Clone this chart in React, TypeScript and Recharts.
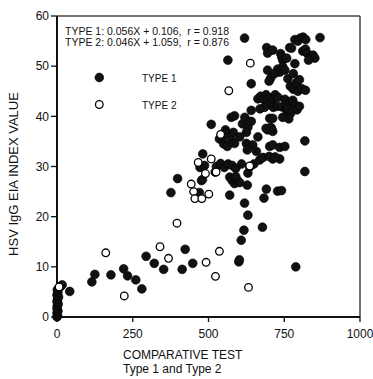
import { ScatterChart, Scatter, XAxis, YAxis, ReferenceLine } from 'recharts';

const xTicks = [0, 250, 500, 750, 1000];
const yTicks = [0, 10, 20, 30, 40, 50, 60];

const equationLines = [
  'TYPE 1: 0.056X + 0.106,  r = 0.918',
  'TYPE 2: 0.046X + 1.059,  r = 0.876',
];

// type 1 (filled) readings, [comparative test, EIA index]
const type1: [number, number][] = [
  [0, 0], [2, 0.3], [0, 0.8], [3, 1.2], [0, 1.7], [1, 2.2], [4, 2.6], [0, 3.1], [2, 3.6], [5, 4.0],
  [0, 4.4], [3, 4.9], [1, 5.4], [6, 5.8], [12, 6.1], [17, 6.4], [42, 5.1],
  [115, 7.0], [125, 8.5], [178, 8.4], [220, 9.6], [233, 8.2], [260, 7.4], [280, 5.6], [294, 12.1],
  [321, 10.7], [352, 9.5], [413, 9.5], [423, 13.5], [448, 10.7], [600, 11.0], [602, 11.4], [608, 15.3],
  [617, 17.3], [630, 20.3], [619, 22.7], [678, 17.9], [788, 10.0],
  [376, 24.8], [398, 27.6], [470, 24.8], [477, 27.2], [480, 27.4], [472, 29.8], [476, 30.0], [487, 30.2],
  [481, 32.5], [522, 28.9], [509, 38.4], [556, 37.3], [575, 39.8], [586, 40.1],
  [612, 38.5], [620, 39.8], [630, 37.8], [641, 39.0], [625, 36.8], [641, 41.2],
  [536, 35.5], [547, 35.9], [558, 36.6], [550, 34.5], [562, 34.0], [575, 35.3], [586, 34.6], [603, 35.9], [582, 36.8],
  [625, 34.6], [632, 34.0], [646, 34.3], [628, 33.3], [663, 35.9], [658, 33.0],
  [695, 37.3], [705, 37.8], [712, 37.0], [690, 37.6],
  [702, 34.0], [712, 34.3], [735, 33.8], [752, 34.0], [712, 31.5], [735, 31.5], [818, 35.1], [818, 29.0],
  [526, 30.0], [540, 30.6], [552, 29.8], [565, 30.5], [578, 30.2], [590, 29.6], [609, 30.5], [650, 30.5],
  [669, 31.3], [680, 31.8], [700, 32.0], [720, 31.9],
  [570, 27.9], [578, 27.2], [586, 26.6], [595, 27.3], [603, 26.8], [590, 28.0],
  [630, 28.7], [636, 29.9], [628, 26.3], [570, 24.3], [683, 23.7], [691, 25.5], [728, 25.1], [741, 25.2],
  [619, 55.6], [564, 51.2], [641, 46.5],
  [692, 53.7], [695, 52.6], [712, 53.2], [738, 52.5], [742, 51.8], [768, 53.7],
  [785, 55.3], [795, 55.0], [803, 55.6], [812, 55.8], [821, 55.3], [868, 55.7], [774, 53.6],
  [811, 53.0], [820, 53.4], [825, 52.6], [835, 51.8], [845, 52.2], [851, 51.6], [830, 51.2],
  [745, 51.2], [758, 51.6], [785, 50.5],
  [728, 49.4], [735, 48.8], [745, 49.9], [752, 49.2],
  [695, 49.2], [705, 47.6], [718, 48.5], [700, 47.0],
  [762, 47.5], [770, 46.0], [780, 45.4], [790, 46.7], [795, 45.0], [780, 48.5], [800, 47.3], [808, 45.5], [820, 45.2],
  [663, 43.5], [672, 44.0], [682, 43.4], [690, 44.3], [700, 43.7], [710, 43.2], [720, 44.3], [729, 43.8],
  [705, 42.3], [714, 41.8], [727, 42.0],
  [685, 41.8], [742, 41.9], [757, 41.3], [670, 41.5],
  [752, 43.4], [768, 42.5], [760, 41.6], [778, 43.2], [787, 42.2], [792, 41.3], [800, 42.0], [771, 40.6], [765, 39.5],
  [745, 39.8], [702, 39.6], [712, 39.6], [708, 37.6],
];

// type 2 (open) readings
const type2: [number, number][] = [
  [7, 6.0], [161, 12.8], [222, 4.2], [340, 14.0], [368, 11.7], [396, 18.7], [443, 26.5], [451, 25.0],
  [455, 23.6], [478, 23.6], [466, 30.8], [490, 28.6], [501, 24.5], [492, 10.9], [509, 31.5], [523, 8.1],
  [536, 13.1], [632, 5.9], [638, 50.6], [567, 45.1], [525, 28.9], [540, 36.4], [636, 30.1],
];

const toRows = (pts: [number, number][]) => pts.map(([x, y]) => ({ x, y }));

const font = '"Liberation Sans", Arial, sans-serif';

const FilledDot = (p: any) => <circle cx={p.cx} cy={p.cy} r={4.4} fill="#111" stroke="#000" strokeWidth={0.6} />;
const OpenDot = (p: any) => <circle cx={p.cx} cy={p.cy} r={3.8} fill="#fff" stroke="#000" strokeWidth={1.3} />;

export default function App() {
  return (
    <div style={{ position: 'absolute', left: 0, top: 0, width: 373, height: 379, background: '#fff', fontFamily: font }}>
      <ScatterChart width={373} height={379} margin={{ top: 16, right: 13, bottom: 0, left: 0 }}>
        <XAxis
          type="number"
          dataKey="x"
          domain={[0, 1000]}
          ticks={xTicks}
          height={62}
          tickSize={5}
          tickMargin={7}
          axisLine={{ stroke: '#111', strokeWidth: 2 }}
          tickLine={{ stroke: '#111', strokeWidth: 1.3 }}
          tick={{ fill: '#111', fontSize: 12, fontFamily: font }}
        />
        <YAxis
          type="number"
          dataKey="y"
          domain={[0, 60]}
          ticks={yTicks}
          width={57}
          tickSize={6}
          tickMargin={2}
          axisLine={{ stroke: '#111', strokeWidth: 2 }}
          tickLine={{ stroke: '#111', strokeWidth: 1.3 }}
          tick={{ fill: '#111', fontSize: 12, fontFamily: font }}
        />
        <ReferenceLine y={60} stroke="#444" strokeWidth={1.5} />
        <ReferenceLine x={1000} stroke="#444" strokeWidth={1.5} />
        <Scatter data={toRows(type1)} shape={FilledDot} isAnimationActive={false} />
        <Scatter data={toRows(type2)} shape={OpenDot} isAnimationActive={false} />

        <g fontFamily={font} fill="#111">
          {equationLines.map((t, i) => (
            <text key={t} x={65} y={34.5 + i * 11} fontSize={10.5} style={{ whiteSpace: 'pre' }}>{t}</text>
          ))}
          <circle cx={99.3} cy={77.5} r={4.4} fill="#111" stroke="#000" strokeWidth={0.6} />
          <text x={142} y={81.5} fontSize={10}>TYPE 1</text>
          <circle cx={99.3} cy={104.5} r={3.8} fill="#fff" stroke="#000" strokeWidth={1.3} />
          <text x={142} y={108.5} fontSize={10}>TYPE 2</text>
          <text x={123} y={359} fontSize={12}>COMPARATIVE TEST</text>
          <text x={123} y={373} fontSize={12}>Type 1 and Type 2</text>
          <text x={0} y={0} fontSize={13} textAnchor="middle" transform="translate(17.5,174) rotate(-90)">HSV IgG EIA INDEX VALUE</text>
        </g>
      </ScatterChart>
    </div>
  );
}
